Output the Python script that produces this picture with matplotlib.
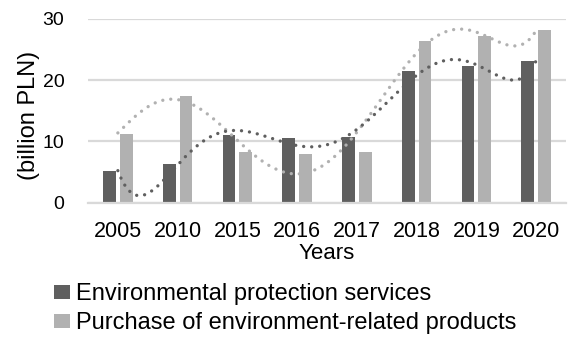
import numpy as np
import matplotlib
matplotlib.use("Agg")
from matplotlib import pyplot as plt

years = ["2005", "2010", "2015", "2016", "2017", "2018", "2019", "2020"]
services = [5.2, 6.4, 11.1, 10.5, 10.8, 21.5, 22.3, 23.2]
products = [11.3, 17.5, 8.2, 8.0, 8.2, 26.4, 27.2, 28.2]
labels = ["Environmental protection services",
          "Purchase of environment-related products"]

dark = "#5f5f5f"
light = "#b1b1b1"

plt.rcParams['font.family'] = ['Liberation Sans', 'DejaVu Sans']

fig = plt.figure(figsize=(5.68, 3.38), dpi=100)
ax = fig.add_axes([0.1549, 0.4003, 0.8415, 0.5435])

x = np.arange(1, len(years) + 1)
w = 0.213
off = 0.14
b1 = ax.bar(x - off, services, w, color=dark, zorder=2)
b2 = ax.bar(x + off, products, w, color=light, zorder=2)

# polynomial (order 6) trendlines, like Excel
xs = np.linspace(1, len(years), 300)
for vals, c in [(products, light), (services, dark)]:
    p = np.polyfit(x, vals, 6)
    ax.plot(xs, np.polyval(p, xs), color=c, lw=2.4, dashes=(0.01, 2.4),
            dash_capstyle='round', solid_capstyle='round', zorder=3)

ax.set_xlim(0.5, len(years) + 0.5)
ax.set_ylim(0, 30)
ax.set_yticks([0, 10, 20, 30])
ax.set_xticks(x)
ax.set_xticklabels(years)
ax.yaxis.grid(True, color="#d9d9d9", lw=1.6, zorder=0)
ax.set_axisbelow(True)
for s in ["top", "right", "left"]:
    ax.spines[s].set_visible(False)
ax.spines["bottom"].set_color("#d9d9d9")
ax.spines["bottom"].set_linewidth(1.6)
ax.tick_params(axis="both", length=0)
ax.tick_params(axis="y", pad=17, labelsize=14)
ax.tick_params(axis="x", pad=13, labelsize=15.5)
ax.set_xlabel("Years", fontsize=16, va="center")
ax.xaxis.set_label_coords(0.5, -0.275)
ax.set_ylabel("(billion PLN)", fontsize=17, va="center", ha="center")
ax.yaxis.set_label_coords(-0.1224, 0.477)

fig.legend([b1, b2], labels, loc="upper left", bbox_to_anchor=(0.095, 0.162),
           frameon=False, fontsize=17, handlelength=0.68, handleheight=0.55,
           handletextpad=0.25, labelspacing=0.3, borderpad=0, borderaxespad=0)

fig.savefig("out.png", dpi=100)
